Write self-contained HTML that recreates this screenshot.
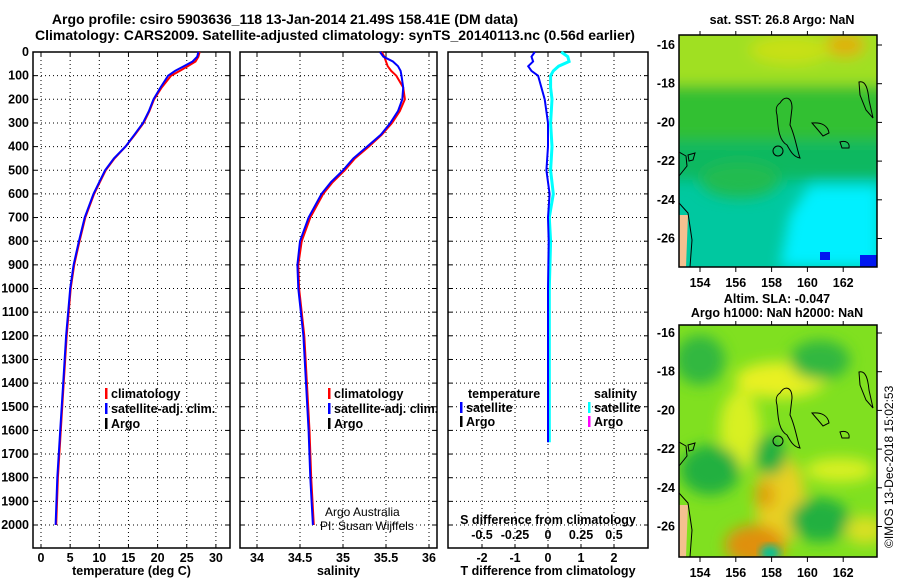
<!DOCTYPE html>
<html><head><meta charset="utf-8">
<style>
body{margin:0;background:#fff;}
svg{display:block;font-family:"Liberation Sans",sans-serif;font-weight:bold;}
text{font-size:12.5px;fill:#000;}
</style></head>
<body>
<svg id="s" width="900" height="580" viewBox="0 0 900 580">
<defs>
<filter id="bl" x="-20%" y="-20%" width="140%" height="140%"><feGaussianBlur stdDeviation="7"/></filter>
<filter id="bl2" x="-20%" y="-20%" width="140%" height="140%"><feGaussianBlur stdDeviation="4"/></filter>
<clipPath id="c1"><rect x="679" y="35" width="198" height="232"/></clipPath>
<clipPath id="c2"><rect x="679" y="325" width="198" height="232"/></clipPath>
<g id="coast" fill="none" stroke="#000" stroke-width="1">
<path d="M780 103 C785 95 792 97 792 108 L790 125 C795 135 797 150 800 158 C793 157 790 150 787 145 C778 140 778 125 777 115 C775 108 777 105 780 103Z"/>
<circle cx="778" cy="151" r="5"/>
<path d="M812 123 C822 122 828 126 829 133 L823 136 L818 130Z"/>
<path d="M840 142 C846 140 850 143 849 148 L842 148Z"/>
<path d="M859 82 C866 80 868 90 869 100 L873 118 L866 110 L860 95Z"/>
<path d="M679 152 L686 156 L687 166 L679 176"/>
<path d="M679 203 L688 213 L692 240 L690 267"/>
<path d="M688 155 L695 153 L693 160 L689 161Z"/>
</g>
</defs>
<text x="285" y="24" text-anchor="middle" style="font-size:14px">Argo profile: csiro 5903636_118 13-Jan-2014 21.49S 158.41E (DM data)</text>
<text x="335" y="40" text-anchor="middle" style="font-size:14px">Climatology: CARS2009. Satellite-adjusted climatology: synTS_20140113.nc (0.56d earlier)</text>
<g id="g"></g>

<g clip-path="url(#c1)">
<rect x="679" y="35" width="198" height="232" fill="#00c8a0"/>
<g filter="url(#bl)">
<rect x="660" y="20" width="240" height="120" fill="#30c030"/>
<rect x="660" y="20" width="240" height="65" fill="#a0e020"/>
<rect x="660" y="140" width="240" height="40" fill="#10b860"/>
<ellipse cx="845" cy="45" rx="20" ry="12" fill="#e0b010"/>
<ellipse cx="790" cy="50" rx="40" ry="14" fill="#c8e018"/>
<path d="M810 185 L880 185 L880 267 L780 267 L790 215 Z" fill="#00f0ff"/>
<ellipse cx="740" cy="180" rx="40" ry="18" fill="#20bb50"/>
</g>
<rect x="860" y="255" width="17" height="12" fill="#0018f0"/>
<rect x="820" y="252" width="10" height="8" fill="#0018f0"/>
<path d="M679 215 L688 215 L686 267 L679 267Z" fill="#f4c090"/>
</g>
<g clip-path="url(#c2)">
<rect x="679" y="325" width="198" height="232" fill="#80e020"/>
<g filter="url(#bl)">
<ellipse cx="780" cy="380" rx="45" ry="18" fill="#e8f020"/>
<ellipse cx="740" cy="430" rx="20" ry="40" fill="#d8f020"/>
<ellipse cx="780" cy="500" rx="25" ry="45" fill="#e8d020"/>
<ellipse cx="755" cy="545" rx="30" ry="20" fill="#e09010"/>
<ellipse cx="765" cy="495" rx="10" ry="14" fill="#e0a010"/>
<ellipse cx="840" cy="470" rx="35" ry="12" fill="#d8f020"/>
<ellipse cx="710" cy="470" rx="30" ry="25" fill="#20b040"/>
<ellipse cx="770" cy="455" rx="16" ry="20" fill="#20b040"/>
<ellipse cx="820" cy="520" rx="30" ry="22" fill="#20b040"/>
<ellipse cx="820" cy="360" rx="30" ry="20" fill="#30b840"/>
<ellipse cx="700" cy="360" rx="25" ry="25" fill="#30b840"/>
<ellipse cx="865" cy="530" rx="20" ry="14" fill="#d8e020"/>
</g>
<ellipse cx="770" cy="553" rx="10" ry="8" fill="#10c090" filter="url(#bl2)"/>
<path d="M679 505 L688 505 L686 557 L679 557Z" fill="#f4c090"/>
</g>
<g>
<use href="#coast" clip-path="url(#c1)"/>
<g clip-path="url(#c2)"><use href="#coast" transform="translate(0,290)"/></g>
</g>
<g id="maps"></g>
<text x="782" y="24" text-anchor="middle">sat. SST: 26.8 Argo: NaN</text>
<text x="777" y="303" text-anchor="middle">Altim. SLA: -0.047</text>
<text x="777" y="317" text-anchor="middle">Argo h1000: NaN h2000: NaN</text>
<text transform="translate(893,548) rotate(-90)" style="font-size:12px;font-weight:normal">©IMOS 13-Dec-2018 15:02:53</text>
</svg>
<script>
// ---- data ----
const depths = [0,20,40,60,80,100,150,200,250,300,350,400,450,500,550,600,700,800,900,1000,1200,1400,1600,1800,2000];
const tempArgo = [27,26.8,26,24.5,23,21.8,20.5,19.3,18.5,17.5,16,14.5,12.5,11,10,9,7.5,6.5,5.6,5,4.3,3.8,3.3,2.8,2.5];
const tempClim = [27.2,27,26.5,25.2,23.8,22.3,20.7,19.4,18.6,17.6,16.1,14.5,12.6,11.1,10.1,9.1,7.6,6.6,5.7,5.1,4.4,3.9,3.4,2.9,2.6];
const salSat = [35.43,35.47,35.58,35.64,35.67,35.68,35.7,35.69,35.64,35.55,35.44,35.28,35.12,35.0,34.86,34.75,34.6,34.5,34.47,34.48,34.54,34.57,34.6,34.62,34.65];
const salClim = [35.45,35.48,35.5,35.52,35.56,35.62,35.7,35.72,35.66,35.57,35.45,35.3,35.14,35.02,34.88,34.77,34.62,34.52,34.48,34.49,34.55,34.58,34.61,34.63,34.66];
const diffDepths = [0,20,40,60,80,100,150,200,300,400,500,600,700,800,1000,1200,1400,1650];
const tDiffSat = [-0.4,-0.5,-0.45,-0.6,-0.5,-0.3,-0.2,-0.1,0,0,-0.05,0.05,0,0.02,0,0,0,0];
const sDiffSat = [0.1,0.15,0.16,0.08,0.04,0.02,0.02,0.03,0.02,0.03,0.02,0.04,0.01,0.02,0.01,0.01,0.01,0.01];
const depthTicks = [0,100,200,300,400,500,600,700,800,900,1000,1100,1200,1300,1400,1500,1600,1700,1800,1900,2000];
const tTicks = [0,5,10,15,20,25,30];
const sTicks = [34,34.5,35,35.5,36];
const dTicks = [-2,-1,0,1,2];
const sdTicks = [-0.5,-0.25,0,0.25,0.5];
const sdLabels = ['-0.5','-0.25','0','0.25','0.5'];

const NS='http://www.w3.org/2000/svg';
const G=document.getElementById('g');
function el(tag,attrs,parent){const e=document.createElementNS(NS,tag);for(const k in attrs)e.setAttribute(k,attrs[k]);(parent||G).appendChild(e);return e;}
const yD = d => 52 + d*0.2365;
const yTop=52, yBot=548;
const panels=[
 {x0:33,x1:230,f:v=>41+v*5.83,ticks:tTicks,lab:'temperature (deg C)',name:'temperature'},
 {x0:240,x1:437,f:v=>257+(v-34)*86,ticks:sTicks,lab:'salinity',name:'salinity'},
 {x0:448,x1:648,f:v=>548+v*33,ticks:dTicks,lab:'T difference from climatology',name:'difference'}
];
const fS = v=>548+v*132;
panels.forEach((p,i)=>{
  const g=el('g',{});
  
  
  depthTicks.forEach(d=>{
    const l=el('line',{x1:p.x0,x2:p.x1,y1:yD(d),y2:yD(d),stroke:'#000','stroke-width':1,'stroke-dasharray':'1 3'},g);
    
    
    el('line',{x1:p.x0,x2:p.x0+4,y1:yD(d),y2:yD(d),stroke:'#000'},g);
    el('line',{x1:p.x1-4,x2:p.x1,y1:yD(d),y2:yD(d),stroke:'#000'},g);
  });
  p.ticks.forEach(v=>{
    const x=p.f(v);
    el('line',{x1:x,x2:x,y1:yTop,y2:yBot,stroke:'#000','stroke-dasharray':'1 3'},g);
    el('line',{x1:x,x2:x,y1:yBot-4,y2:yBot,stroke:'#000'},g);
    el('line',{x1:x,x2:x,y1:yTop,y2:yTop+4,stroke:'#000'},g);
    const t=el('text',{x:x,y:yBot+14,'text-anchor':'middle'},g);t.textContent=String(v);
    
    
  });
  const fr=el('rect',{x:p.x0,y:yTop,width:p.x1-p.x0,height:yBot-yTop,fill:'none',stroke:'#000','stroke-width':1.5},g);
  
  
  const xl=el('text',{x:(p.x0+p.x1)/2,y:575,'text-anchor':'middle'},g);xl.textContent=p.lab;
  
  
});
depthTicks.forEach(d=>{
  const t=el('text',{x:29,y:yD(d)+4,'text-anchor':'end'});t.textContent=String(d);
  
  
});
function line(xs,ds,fx,col,w,name){
  const pts=xs.map((v,i)=>fx(v).toFixed(1)+','+yD(ds[i]).toFixed(1)).join(' ');
  const pl=el('polyline',{points:pts,fill:'none',stroke:col,'stroke-width':w});
  
  
}
line(tempClim,depths,panels[0].f,'#f00',2,'temp-climatology-line');
line(tempArgo,depths,panels[0].f,'#00f',2,'temp-satellite-line');
line(salClim,depths,panels[1].f,'#f00',2,'sal-climatology-line');
line(salSat,depths,panels[1].f,'#00f',2,'sal-satellite-line');
line(sDiffSat,diffDepths,fS,'#0ff',3,'s-diff-satellite-line');
line(tDiffSat,diffDepths,panels[2].f,'#00f',2,'t-diff-satellite-line');
const st=el('text',{x:548,y:524,'text-anchor':'middle'});st.textContent='S difference from climatology';


sdTicks.forEach((v,i)=>{const t=el('text',{x:fS(v),y:539,'text-anchor':'middle'});t.textContent=sdLabels[i];
 
 });
function leg(x,y,col,txt){
  el('rect',{x:x,y:y-10,width:2.5,height:11,fill:col});
  const t=el('text',{x:x+6,y:y});t.textContent=txt;
  
  
}
[[105,'#f00','climatology'],[105,'#00f','satellite-adj. clim.'],[105,'#000','Argo']].forEach((a,i)=>leg(a[0],398+i*15,a[1],a[2]));
[[328,'#f00','climatology'],[328,'#00f','satellite-adj. clim.'],[328,'#000','Argo']].forEach((a,i)=>leg(a[0],398+i*15,a[1],a[2]));
let tt=el('text',{x:468,y:398});tt.textContent='temperature';

tt=el('text',{x:594,y:398});tt.textContent='salinity';

leg(460,412,'#00f','satellite');leg(460,426,'#000','Argo');
leg(588,412,'#0ff','satellite');leg(588,426,'#f0f','Argo');
let a=el('text',{x:325,y:516,style:'font-weight:normal;font-size:12px'});a.textContent='Argo Australia';

a=el('text',{x:320,y:530,style:'font-weight:normal;font-size:12px'});a.textContent='PI: Susan Wijffels';

const M=document.getElementById('maps');
const lonTicks=[154,156,158,160,162];
const latTicks=[-16,-18,-20,-22,-24,-26];
[[35,45],[325,333]].forEach(([y0,l16])=>{
  el('rect',{x:679,y:y0,width:198,height:232,fill:'none',stroke:'#000','stroke-width':1.5},M);
  lonTicks.forEach(v=>{const x=700+(v-154)*17.9;
    el('line',{x1:x,x2:x,y1:y0-4,y2:y0,stroke:'#000'},M);
    el('line',{x1:x,x2:x,y1:y0+232,y2:y0+237,stroke:'#000'},M);
    const t=el('text',{x:x,y:y0+252,'text-anchor':'middle'},M);t.textContent=v;
    });
  latTicks.forEach(v=>{const y=l16+(-16-v)*19.35;
    el('line',{x1:877,x2:882,y1:y,y2:y,stroke:'#000'},M);
    const t=el('text',{x:675,y:y+4,'text-anchor':'end'},M);t.textContent=v;
    });
});
</script>
</body></html>
